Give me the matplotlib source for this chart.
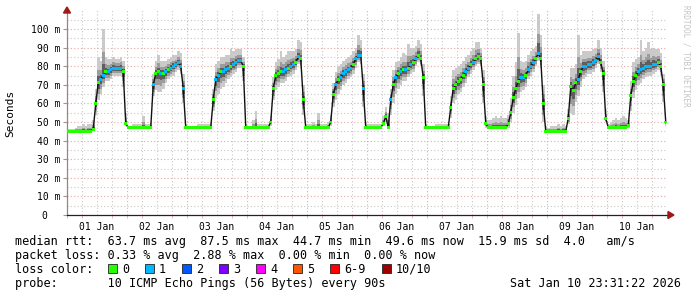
import numpy as np
import matplotlib
matplotlib.use("Agg")
import matplotlib.pyplot as plt
from matplotlib.patches import Rectangle, Polygon

W, H = 697, 297

# mediana horaria (ms), um dia por lista
med_dias = [
    [45]*10 + [46, 60, 71, 73, 75, 77, 77, 78, 79, 79, 79, 79, 77, 49],
    [47]*10 + [70, 76, 77, 76, 76, 77, 78, 79, 80, 81, 82, 80, 68, 47],
    [47]*10 + [62, 73, 75, 77, 77, 78, 79, 80, 81, 82, 83, 83, 80, 47],
    [47]*9 + [50, 68, 75, 76, 77, 77, 78, 79, 80, 81, 82, 85, 84, 62, 47],
    [47]*9 + [50, 65, 70, 73, 74, 76, 77, 78, 79, 81, 84, 86, 86, 68, 47],
    [47, 47, 47, 47, 47, 47, 49, 53, 47, 62, 70, 74, 76, 77, 78, 78, 79, 81, 82, 84, 86, 84, 74, 47],
    [47]*9 + [58, 68, 70, 72, 73, 75, 77, 79, 81, 82, 84, 85, 84, 70, 49],
    [47]*8 + [49, 55, 63, 68, 72, 74, 74, 75, 78, 80, 82, 84, 87, 84, 60, 45],
    [45]*8 + [52, 69, 67, 71, 73, 77, 80, 80, 81, 81, 82, 83, 85, 82, 76, 52],
    [47]*8 + [48, 64, 72, 75, 77, 78, 79, 80, 80, 80, 81, 81, 82, 80, 70, 50],
]

# fumaca: quanto sobe acima da mediana (ms)
sobe_dias = [
    [1, 1, 1, 2, 3, 3, 4, 3, 4, 4, 5, 8, 14, 10, 25, 8, 7, 6, 6, 5, 5, 6, 6, 6],
    [1, 1, 2, 2, 2, 2, 6, 2, 2, 3, 6, 7, 9, 7, 7, 6, 6, 6, 6, 5, 6, 7, 8, 2],
    [1, 1, 1, 1, 2, 2, 2, 2, 2, 3, 6, 8, 8, 8, 8, 8, 7, 9, 7, 7, 6, 6, 5, 2],
    [1, 1, 4, 9, 2, 2, 2, 2, 2, 3, 6, 7, 8, 11, 8, 8, 9, 8, 7, 7, 9, 9, 8, 2],
    [2, 2, 3, 2, 8, 2, 2, 2, 3, 4, 6, 7, 7, 7, 7, 7, 7, 7, 7, 6, 11, 8, 8, 3],
    [2, 2, 2, 2, 2, 2, 4, 5, 8, 6, 8, 8, 7, 8, 9, 8, 13, 9, 8, 7, 8, 8, 7, 2],
    [1, 1, 1, 2, 2, 2, 2, 2, 2, 6, 10, 9, 8, 8, 8, 8, 7, 7, 8, 9, 8, 6, 8, 4],
    [4, 4, 5, 6, 5, 6, 5, 5, 5, 8, 12, 14, 26, 9, 8, 8, 8, 8, 7, 7, 21, 13, 10, 3],
    [2, 3, 3, 3, 4, 3, 4, 3, 5, 10, 12, 10, 24, 9, 8, 8, 7, 7, 7, 7, 9, 8, 7, 5],
    [2, 3, 4, 5, 4, 5, 6, 5, 3, 8, 10, 9, 8, 16, 9, 10, 13, 9, 9, 8, 7, 7, 6, 4],
]

# fumaca: quanto desce abaixo da mediana (ms)
desce_dias = [
    [0]*11 + [6, 9, 8, 6, 5, 5, 5, 4, 4, 4, 4, 8, 1],
    [0]*10 + [6, 9, 11, 10, 8, 6, 5, 5, 5, 4, 4, 4, 8, 0],
    [0]*10 + [6, 10, 10, 9, 8, 7, 6, 6, 5, 5, 4, 4, 8, 0],
    [0]*9 + [2, 6, 8, 7, 6, 6, 6, 5, 5, 5, 4, 4, 5, 8, 0],
    [0]*9 + [2, 7, 8, 8, 7, 6, 6, 5, 5, 5, 5, 4, 5, 10, 0],
    [0, 0, 0, 0, 0, 0, 1, 3, 0, 8, 10, 9, 8, 7, 6, 6, 5, 5, 5, 4, 4, 4, 10, 0],
    [0]*9 + [6, 8, 8, 7, 7, 6, 6, 5, 5, 4, 4, 4, 4, 10, 2],
    [0]*8 + [2, 5, 8, 9, 9, 8, 7, 6, 5, 5, 5, 4, 4, 5, 10, 1],
    [0]*8 + [3, 14, 13, 10, 9, 8, 7, 6, 5, 5, 5, 4, 4, 5, 10, 2],
    [0]*8 + [1, 8, 9, 8, 7, 7, 6, 6, 5, 5, 5, 4, 4, 5, 9, 2],
]

# pacotes perdidos por hora (0 = verde, 1 = azul)
perda_dias = [
    "000000000000011011111100",
    "000000000010010101111110",
    "000000000001101110111100",
    "000000000000001101101000",
    "000000000001011111011110",
    "000000000101010101010000",
    "000000000000000110100000",
    "000000000000011011101000",
    "000000000000101111111000",
    "000000000000111111110000",
]

dias = ["01 Jan", "02 Jan", "03 Jan", "04 Jan", "05 Jan",
        "06 Jan", "07 Jan", "08 Jan", "09 Jan", "10 Jan"]
y_ticks = [0, 10, 20, 30, 40, 50, 60, 70, 80, 90, 100]
y_labels = ["0  ", "10 m", "20 m", "30 m", "40 m", "50 m", "60 m",
            "70 m", "80 m", "90 m", "100 m"]

cores_perda = ["#26ff00", "#00b8ff", "#0059ff", "#7e00ff", "#ff00ff",
               "#ff5500", "#ff0000", "#a10000"]
nomes_perda = ["0", "1", "2", "3", "4", "5", "6-9", "10/10"]

med = np.array(sum(med_dias, []), dtype=float)
sobe = np.array(sum(sobe_dias, []), dtype=float)
desce = np.array(sum(desce_dias, []), dtype=float)
perda = np.array([int(c) for c in "".join(perda_dias)])
horas = np.arange(len(med)) + 0.5

fig = plt.figure(figsize=(W / 100, H / 100), dpi=100)
fig.patch.set_facecolor("white")

def px(x, y):
    return x / W, 1 - y / H

x0, x1, y0, y1 = 67, 667, 215, 10.4
ax = fig.add_axes([x0 / W, 1 - y0 / H, (x1 - x0) / W, (y0 - y1) / H])
ax.set_xlim(0, 240)
ax.set_ylim(0, 110)

# grade
for h in range(6, 240, 6):
    if h % 24:
        ax.axvline(h, color="#c8c8c8", lw=0.8, ls=(0, (1, 2)), zorder=0)
for h in range(24, 240, 24):
    ax.axvline(h, color="#e8a8a8", lw=0.8, ls=(0, (1, 2)), zorder=0)
for v in range(5, 110, 10):
    ax.axhline(v, color="#c8c8c8", lw=0.8, ls=(0, (1, 2)), zorder=0)
for v in range(10, 110, 10):
    ax.axhline(v, color="#e8a8a8", lw=0.8, ls=(0, (1, 2)), zorder=0)

# fumaca em tons de cinza
lo = med - desce
hi = med + sobe
ax.fill_between(horas, lo, hi, step="mid", color="#cacaca", lw=0, zorder=1)
ax.fill_between(horas, med - desce * 0.65, med + sobe * 0.5, step="mid",
                color="#9c9c9c", lw=0, zorder=2)
ax.fill_between(horas, med - desce * 0.35, med + sobe * 0.25, step="mid",
                color="#5e5e5e", lw=0, zorder=3)

ax.plot(horas, med, color="#111111", lw=1.0, zorder=4)
cores = [cores_perda[p] for p in perda]
ax.scatter(horas, med, c=cores, marker="s", s=4.5, lw=0, zorder=5)

# eixos
for s in ["top", "right"]:
    ax.spines[s].set_visible(False)
ax.spines["left"].set_color("#a08080")
ax.spines["bottom"].set_color("#222222")
ax.spines["left"].set_linewidth(0.9)
ax.spines["bottom"].set_linewidth(0.9)
ax.set_facecolor("white")

ax.set_yticks(y_ticks)
ax.set_yticklabels(y_labels, family="DejaVu Sans Mono", fontsize=7)
ax.set_xticks([12 + 24 * i for i in range(10)])
ax.set_xticklabels(dias, family="DejaVu Sans Mono", fontsize=7)
ax.set_xticks(range(0, 241, 6), minor=True)
ax.tick_params(axis="x", which="major", length=0, pad=5)
ax.tick_params(axis="x", which="minor", length=2, color="#e8a8a8")
ax.tick_params(axis="y", length=3, color="#999999", pad=2)

# setas
fig.patches.append(Polygon([px(63.5, 13), px(70.5, 13), px(67, 7)], closed=True,
                           transform=fig.transFigure, color="#a01818"))
fig.patches.append(Polygon([px(668, 211.5), px(668, 218.5), px(674, 215)], closed=True,
                           transform=fig.transFigure, color="#a01818"))

mono = "DejaVu Sans Mono"
fig.text(*px(10, 113), "Seconds", rotation=90, ha="center", va="center",
         family=mono, fontsize=8)
fig.text(*px(686, 5), "RRDTOOL / TOBI OETIKER", rotation=-90, ha="center",
         va="top", family=mono, fontsize=5.5, color="#c4c4c4")

fs = 8.5
linha1 = "median rtt:  63.7 ms avg  87.5 ms max  44.7 ms min  49.6 ms now  15.9 ms sd  4.0   am/s"
linha2 = "packet loss: 0.33 % avg  2.88 % max  0.00 % min  0.00 % now"
linha4 = "probe:       10 ICMP Echo Pings (56 Bytes) every 90s"
fig.text(*px(15, 245.3), linha1, family=mono, fontsize=fs, va="baseline")
fig.text(*px(15, 259), linha2, family=mono, fontsize=fs, va="baseline")
fig.text(*px(15, 286.7), linha4, family=mono, fontsize=fs, va="baseline")
fig.text(*px(681, 286.7), "Sat Jan 10 23:31:22 2026", family=mono, fontsize=fs,
         va="baseline", ha="right")

fig.text(*px(15, 273), "loss color:", family=mono, fontsize=fs, va="baseline")
caixa_x = [108, 145, 182, 219, 256, 293, 330, 382]
for bx, cor, nome in zip(caixa_x, cores_perda, nomes_perda):
    fig.patches.append(Rectangle(px(bx, 273), 9 / W, 9 / H, transform=fig.transFigure,
                                 facecolor=cor, edgecolor="#222222", lw=0.6))
    fig.text(*px(bx + 14, 273), nome, family=mono, fontsize=fs, va="baseline")

fig.savefig("out.png", dpi=100)
